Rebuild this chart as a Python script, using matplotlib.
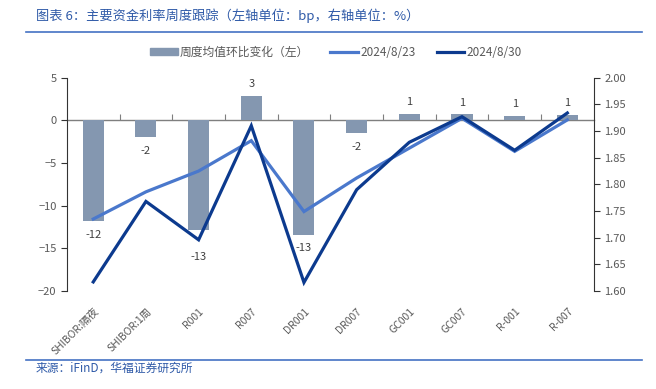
import matplotlib.pyplot as plt
import numpy as np
from matplotlib.patches import Patch
from matplotlib.lines import Line2D

plt.rcParams['font.family'] = ['Noto Sans CJK SC', 'DejaVu Sans']

'''
Data read from the reference chart
'''
categories = ['SHIBOR:隔夜', 'SHIBOR:1周', 'R001', 'R007', 'DR001', 'DR007',
              'GC001', 'GC007', 'R-001', 'R-007']
bar_change = [-11.8, -2.0, -12.8, 2.9, -13.4, -1.5, 0.8, 0.7, 0.5, 0.6]
bar_labels = ['-12', '-2', '-13', '3', '-13', '-2', '1', '1', '1', '1']
rate_0823 = [1.735, 1.786, 1.825, 1.882, 1.749, 1.812, 1.868, 1.924, 1.862, 1.921]
rate_0830 = [1.617, 1.768, 1.696, 1.910, 1.616, 1.790, 1.879, 1.927, 1.864, 1.934]

# extra gap for labels that were nudged off the lines
label_extra = [0, 0, 1.6, 0, 0, 0, 0, 0, 0, 0]

bar_color = '#8497B0'
c_0823 = '#4A78CC'
c_0830 = '#0C3A8E'
text_gray = '#595959'
title_blue = '#2F5AA8'

fig = plt.figure(figsize=(6.56, 3.89), dpi=100)
ax = fig.add_axes([0.102, 0.252, 0.803, 0.548])
ax2 = ax.twinx()

x = np.arange(len(categories))
ax.bar(x, bar_change, width=0.4, color=bar_color, zorder=2)
for xi, v, lab, ex in zip(x, bar_change, bar_labels, label_extra):
    if v < 0:
        ax.text(xi, v - 1.0 - ex, lab, ha='center', va='top', fontsize=8, color='#404040')
    else:
        ax.text(xi, v + 0.8 + ex, lab, ha='center', va='bottom', fontsize=8, color='#404040')

ax2.plot(x, rate_0823, color=c_0823, lw=2.3, solid_joinstyle='miter', zorder=3)
ax2.plot(x, rate_0830, color=c_0830, lw=2.3, solid_joinstyle='miter', zorder=4)

ax.set_xlim(-0.5, len(categories) - 0.5)
ax.set_ylim(-20, 5)
ax.set_yticks([-20, -15, -10, -5, 0, 5])
ax2.set_ylim(1.60, 2.00)
ax2.set_yticks(np.arange(1.60, 2.001, 0.05))
ax2.set_yticklabels(['%.2f' % t for t in np.arange(1.60, 2.001, 0.05)])

ax.set_xticks(x)
ax.set_xticklabels(categories, rotation=45, ha='right', rotation_mode='anchor', fontsize=7.5,
                   color=text_gray)
ax.tick_params(axis='x', length=0, pad=11)
ax.tick_params(axis='y', labelsize=8, labelcolor=text_gray, length=4, color='#333333')
ax2.tick_params(axis='y', labelsize=8, labelcolor=text_gray, length=4, color='#333333')

for a in (ax, ax2):
    a.spines['top'].set_visible(False)
    a.spines['bottom'].set_visible(False)
ax.spines['right'].set_visible(False)
ax2.spines['left'].set_visible(False)
ax.spines['left'].set_color('#333333')
ax2.spines['right'].set_color('#333333')

# zero line with category separator ticks
zero_ax = ax.secondary_xaxis(0, transform=ax.transData)
zero_ax.set_xticks(np.arange(0.5, len(categories) - 0.5, 1))
zero_ax.tick_params(direction='in', length=4, color='#7F7F7F', labelbottom=False)
zero_ax.spines['bottom'].set_color('#7F7F7F')
zero_ax.spines['bottom'].set_linewidth(1.0)

ax.set_zorder(1)
ax2.set_zorder(2)
ax.patch.set_visible(False)

# legend
handles = [Patch(color=bar_color), Line2D([], [], color=c_0823, lw=2.3),
           Line2D([], [], color=c_0830, lw=2.3)]
fig.legend(handles, ['周度均值环比变化（左）', '2024/8/23', '2024/8/30'],
           loc='center', bbox_to_anchor=(0.512, 0.866), ncol=3, frameon=False,
           fontsize=8.5, labelcolor=text_gray, handlelength=2.3, handleheight=0.5,
           handletextpad=0.2, columnspacing=1.8)

# title, rules and source
fig.text(0.055, 0.959, '图表 6：主要资金利率周度跟踪（左轴单位：bp，右轴单位：%）', fontsize=9.5,
         color=title_blue, style='italic', va='center')
fig.add_artist(Line2D([0.04, 0.979], [0.918, 0.918], color='#4472C4', lw=1.2))
fig.add_artist(Line2D([0.04, 0.979], [0.075, 0.075], color='#4472C4', lw=1.2))
fig.text(0.055, 0.054, '来源：iFinD，华福证券研究所', fontsize=8.5, color=title_blue,
         style='italic', va='center')

fig.savefig('out.png', dpi=100)
